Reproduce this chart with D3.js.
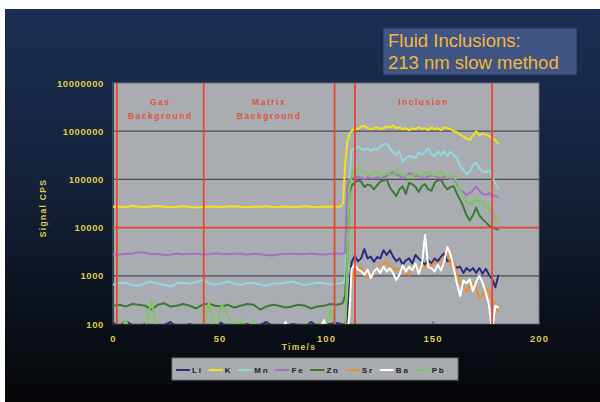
<!DOCTYPE html>
<html>
<head>
<meta charset="utf-8">
<script src="https://cdn.jsdelivr.net/npm/d3@7"></script>
<style>
  body { margin: 0; background: #fff; }
  svg { display: block; font-family: Arial, "Liberation Sans", sans-serif; }
</style>
</head>
<body>
<div id="chart"></div>
<script>
// time axis (s): gas + matrix background, ramp, inclusion
var times = [0, 3, 6, 9, 12, 15, 18, 21, 24, 27, 30, 33, 36, 39, 42, 45, 48, 51, 54, 57,
  60, 63, 66, 69, 72, 75, 78, 81, 84, 87, 90, 93, 96, 99, 102, 105,
  107, 108, 109, 110, 111,
  112, 113.5, 115, 116.5, 118, 119.5, 121, 122.5, 124, 125.5, 127, 128.5, 130, 131.5, 133, 134.5,
  136, 137.5, 139, 140.5, 142, 143.5, 145, 146.5, 148, 149.5, 151, 152.5, 154, 155.5, 157, 158.5,
  160, 161.5, 163, 164.5, 166, 167.5, 169, 170.5, 172, 173.5, 175, 176.5, 178, 179.5, 181];

var li = [105, 90, 115, 95, 85, 100, 90, 80, 95, 110, 85, 90, 100, 85, 80, 95, 90, 105, 85, 80,
  90, 100, 85, 95, 110, 90, 85, 80, 100, 95, 85, 110, 90, 95, 100, 105,
  100, 95, 105, 110, 600,
  1900, 2600, 2000, 2300, 3600, 2300, 2500, 1950, 2450, 2300, 3400, 2700, 3400, 2500, 2000, 2300,
  1700, 2100, 2300, 1800, 2700, 2300, 2000, 1700, 2100, 1800, 2300, 2000, 2500, 2900, 2000, 2100,
  1700, 1450, 1550, 1150, 1450, 1250, 1450, 1150, 1450, 1100, 1400, 1050, 850, 580, 1050];

var k = [27000, 27500, 26500, 28000, 27000, 26800, 27500, 28200, 27000, 26500, 27200, 27800, 27000, 26000, 26800, 27500, 27000, 26600, 27300, 27800,
  27000, 26500, 27200, 27000, 27600, 26800, 27000, 27400, 26700, 27200, 27800, 27000, 26600, 27200, 27500, 27000,
  27500, 32000, 200000, 600000, 880000,
  1000000, 1150000, 1100000, 1250000, 1300000, 1150000, 1100000, 1150000, 1200000, 1100000, 1150000, 1250000, 1200000, 1300000, 1150000, 1200000,
  1100000, 1150000, 1050000, 1150000, 1100000, 1200000, 1100000, 1150000, 1050000, 1200000, 1100000, 1150000, 1050000, 1200000, 1150000, 1100000,
  1000000, 950000, 850000, 780000, 700000, 660000, 800000, 1000000, 820000, 900000, 850000, 800000, 700000, 650000, 540000];

var mn = [650, 700, 720, 640, 620, 700, 760, 680, 650, 600, 700, 720, 680, 740, 820, 700, 650, 700, 760, 680,
  640, 720, 700, 660, 620, 700, 680, 720, 760, 700, 640, 680, 720, 700, 660, 680,
  700, 720, 900, 8000, 100000,
  400000, 440000, 480000, 430000, 410000, 440000, 390000, 440000, 410000, 480000, 530000, 560000, 440000, 365000, 320000, 390000,
  233000, 274000, 310000, 300000, 274000, 365000, 320000, 376000, 440000, 330000, 300000, 376000, 320000, 390000, 300000, 376000,
  320000, 274000, 185000, 158000, 128000, 148000, 199000, 225000, 170000, 145000, 140000, 158000, 115000, 83000, 63000];

var fe = [2800, 2750, 2900, 2850, 3100, 3000, 2800, 2850, 2700, 2750, 2900, 2800, 2850, 2900, 2750, 2800, 2950, 2850, 2800, 2900,
  2850, 2750, 2900, 2800, 2700, 2650, 2800, 2850, 2900, 2800, 2850, 2900, 2800, 2750, 2850, 2900,
  2850, 2900, 3000, 70000, 100000,
  110000, 105000, 115000, 110000, 100000, 110000, 105000, 105000, 110000, 115000, 110000, 118000, 130000, 140000, 125000, 120000,
  105000, 115000, 135000, 125000, 115000, 120000, 110000, 105000, 115000, 120000, 118000, 110000, 105000, 115000, 110000, 100000,
  108000, 80000, 60000, 55000, 48000, 52000, 60000, 72000, 58000, 50000, 48000, 52000, 47000, 45000, 42000];

var zn = [240, 250, 230, 260, 250, 240, 200, 250, 270, 230, 240, 260, 240, 210, 250, 265, 240, 230, 250, 220,
  240, 260, 250, 200, 230, 250, 240, 220, 230, 250, 240, 210, 230, 240, 260, 250,
  260, 280, 400, 2500, 50000,
  75000, 85000, 95000, 90000, 70000, 78000, 75000, 62000, 75000, 90000, 95000, 100000, 68000, 55000, 45000, 62000,
  72000, 50000, 85000, 80000, 70000, 55000, 72000, 80000, 62000, 58000, 85000, 95000, 98000, 75000, 62000, 70000,
  72000, 50000, 38000, 27000, 18000, 14000, 18000, 26000, 18000, 15000, 13000, 11000, 10000, 9500, 9000];

var sr = [50, 55, 45, 60, 50, 48, 55, 52, 45, 50, 58, 50, 45, 55, 50, 60, 48, 52, 50, 45,
  55, 50, 60, 48, 52, 55, 50, 45, 58, 50, 52, 48, 55, 50, 60, 55,
  55, 50, 58, 60, 200,
  700, 1600, 1400, 1500, 1200, 900, 1000, 1200, 1400, 1650, 1800, 1950, 1550, 1450, 1350, 1400,
  1550, 1150, 1050, 1400, 1650, 1150, 1400, 1550, 1800, 1650, 1950, 1550, 1650, 2400, 3100, 1700,
  1950, 1050, 720, 600, 470, 650, 720, 550, 360, 390, 570, 470, 300, 250, 180];

var ba = [55, 60, 50, 65, 55, 60, 50, 58, 62, 55, 60, 50, 55, 65, 58, 52, 60, 55, 50, 62,
  58, 55, 60, 50, 65, 55, 60, 110, 55, 60, 62, 58, 60, 120, 65, 60,
  60, 55, 60, 65, 150,
  1400, 1700, 1350, 1250, 1050, 1350, 900, 1220, 1430, 1150, 1550, 1220, 1430, 1130, 820, 1050,
  1650, 1220, 1550, 1300, 1800, 1100, 1650, 7000, 1500, 1430, 1220, 1700, 1300, 2000, 4000, 2700,
  1430, 680, 380, 800, 700, 850, 480, 750, 1000, 720, 450, 250, 70, 240, 215];

var pb = [60, 70, 120, 60, 50, 80, 300, 60, 50, 70, 60, 50, 60, 70, 60, 280, 60, 250, 150, 80,
  130, 60, 120, 60, 50, 70, 60, 50, 60, 70, 110, 60, 70, 60, 200, 80,
  60, 60, 80, 2000, 60000,
  120000, 160000, 180000, 150000, 135000, 125000, 120000, 140000, 150000, 115000, 130000, 140000, 125000, 120000, 150000, 140000,
  130000, 120000, 110000, 115000, 135000, 125000, 120000, 135000, 140000, 125000, 120000, 130000, 150000, 125000, 110000, 120000,
  115000, 90000, 60000, 45000, 35000, 32000, 30000, 40000, 33000, 35000, 25000, 28000, 20000, 15000, 12000];

var elements = ["Li", "K", "Mn", "Fe", "Zn", "Sr", "Ba", "Pb"];
var seriesValues = [li, k, mn, fe, zn, sr, ba, pb];
var colors = ["#2a2d7c", "#f4e01e", "#92d8da", "#a571c2", "#3c7a35", "#f28b2f", "#ffffff", "#7ec75c"];

var xTicks = [0, 50, 100, 150, 200];
var yTicks = [100, 1000, 10000, 100000, 1000000, 10000000];
var gridDark = [1000, 100000, 1000000];
var gridRed = [10000];
var markerTimes = [1.8, 42.6, 104, 113.6, 178];
var regionLabels = [["Gas", "Background"], ["Matrix", "Background"], ["Inclusion"]];
var regionBounds = [[1.8, 42.6], [42.6, 104], [113.6, 178]];
var titleLines = ["Fluid Inclusions:", "213 nm slow method"];

var width = 600, height = 402;
var plot = { left: 113, right: 539, top: 83, bottom: 324 };

var svg = d3.select("#chart").append("svg").attr("width", width).attr("height", height);

// dark slide background
var grad = svg.append("defs").append("linearGradient").attr("id", "bg")
  .attr("x1", 0).attr("y1", 0).attr("x2", 0).attr("y2", 1);
grad.append("stop").attr("offset", "0%").attr("stop-color", "#1b2e52");
grad.append("stop").attr("offset", "45%").attr("stop-color", "#15213a");
grad.append("stop").attr("offset", "100%").attr("stop-color", "#050607");
svg.append("rect").attr("x", 5).attr("y", 9).attr("width", width - 5).attr("height", height - 9)
  .attr("fill", "url(#bg)");

svg.select("defs").append("clipPath").attr("id", "clip").append("rect")
  .attr("x", plot.left).attr("y", plot.top)
  .attr("width", plot.right - plot.left).attr("height", plot.bottom - plot.top);

var x = d3.scaleLinear().domain([0, 200]).range([plot.left, plot.right]);
var y = d3.scaleLog().domain([100, 10000000]).range([plot.bottom, plot.top]);

// plot area
svg.append("rect").attr("x", plot.left).attr("y", plot.top)
  .attr("width", plot.right - plot.left).attr("height", plot.bottom - plot.top)
  .attr("fill", "#a9adb1").attr("stroke", "#6d7175").attr("stroke-width", 1);

svg.selectAll(".gridDark").data(gridDark).enter().append("line")
  .attr("x1", plot.left).attr("x2", plot.right)
  .attr("y1", function(d) { return y(d); }).attr("y2", function(d) { return y(d); })
  .attr("stroke", "#4c4f52").attr("stroke-width", 1.2);

// x axis with little inward ticks
var xAxis = svg.append("g").attr("transform", "translate(0," + plot.bottom + ")")
  .call(d3.axisBottom(x).tickValues(xTicks).tickSize(-3).tickPadding(11).tickFormat(d3.format("d")));
xAxis.select(".domain").attr("stroke", "#2a2c2e");
xAxis.selectAll(".tick line").attr("stroke", "#55585b");
xAxis.selectAll("text").attr("fill", "#dccb4c").attr("font-size", 9.5).attr("font-weight", "bold")
  .style("letter-spacing", "1px").attr("font-family", "Arial, 'Liberation Sans', sans-serif");

var yAxis = svg.append("g").attr("transform", "translate(" + plot.left + ",0)")
  .call(d3.axisLeft(y).tickValues(yTicks).tickSize(0).tickPadding(9).tickFormat(d3.format("d")));
yAxis.select(".domain").attr("stroke", "#3a3c3e");
yAxis.selectAll("text").attr("fill", "#dccb4c").attr("font-size", 9.5).attr("font-weight", "bold")
  .style("letter-spacing", "0.6px").attr("font-family", "Arial, 'Liberation Sans', sans-serif");

// series lines
var lines = svg.append("g").attr("clip-path", "url(#clip)");
var line = d3.line()
  .x(function(d) { return x(d[0]); })
  .y(function(d) { return y(Math.max(d[1], 50)); });

seriesValues.forEach(function(vals, i) {
  var pts = times.map(function(t, j) { return [t, vals[j]]; });
  lines.append("path").datum(pts).attr("d", line)
    .attr("fill", "none").attr("stroke", colors[i]).attr("stroke-width", 2)
    .attr("stroke-linejoin", "round");
});

// red region markers
svg.selectAll(".gridRed").data(gridRed).enter().append("line")
  .attr("x1", plot.left).attr("x2", plot.right)
  .attr("y1", function(d) { return y(d); }).attr("y2", function(d) { return y(d); })
  .attr("stroke", "#e8472d").attr("stroke-width", 1.6);

svg.selectAll(".marker").data(markerTimes).enter().append("line")
  .attr("x1", function(d) { return x(d); }).attr("x2", function(d) { return x(d); })
  .attr("y1", plot.top).attr("y2", plot.bottom)
  .attr("stroke", "#e8472d").attr("stroke-width", 1.8);

regionLabels.forEach(function(lbl, i) {
  var cx = x((regionBounds[i][0] + regionBounds[i][1]) / 2);
  lbl.forEach(function(s, j) {
    svg.append("text").attr("x", cx).attr("y", 105 + j * 14).attr("text-anchor", "middle")
      .attr("fill", "#e0553f").attr("font-size", 8.5).attr("font-weight", "bold")
      .style("letter-spacing", "1.5px").text(s);
  });
});

// axis titles
svg.append("text").attr("transform", "translate(46,208) rotate(-90)").attr("text-anchor", "middle")
  .attr("fill", "#dccb4c").attr("font-size", 8.5).attr("font-weight", "bold")
  .style("letter-spacing", "1.3px").text("Signal CPS");
svg.append("text").attr("x", 299).attr("y", 350).attr("text-anchor", "middle")
  .attr("fill", "#dccb4c").attr("font-size", 8.5).attr("font-weight", "bold")
  .style("letter-spacing", "1.3px").text("Time/s");

// title box
svg.append("rect").attr("x", 383).attr("y", 28).attr("width", 194).attr("height", 47)
  .attr("fill", "#405584").attr("stroke", "#243455").attr("stroke-width", 1);
titleLines.forEach(function(s, i) {
  svg.append("text").attr("x", 388).attr("y", 47 + i * 21.5).attr("fill", "#f1b73a")
    .attr("font-size", 18.5).text(s);
});

// legend
svg.append("rect").attr("x", 172).attr("y", 358).attr("width", 286).attr("height", 22)
  .attr("fill", "#a8acb0").attr("stroke", "#70757a").attr("stroke-width", 1);
var lx = 176;
elements.forEach(function(name, i) {
  svg.append("line").attr("x1", lx).attr("x2", lx + 14).attr("y1", 370).attr("y2", 370)
    .attr("stroke", colors[i]).attr("stroke-width", 2);
  var t = svg.append("text").attr("x", lx + 16).attr("y", 373).attr("fill", "#1e2024")
    .attr("font-size", 8).attr("font-weight", "bold").style("letter-spacing", "1.8px").text(name);
  lx += 16 + t.node().getComputedTextLength() + 6;
});
</script>
</body>
</html>
